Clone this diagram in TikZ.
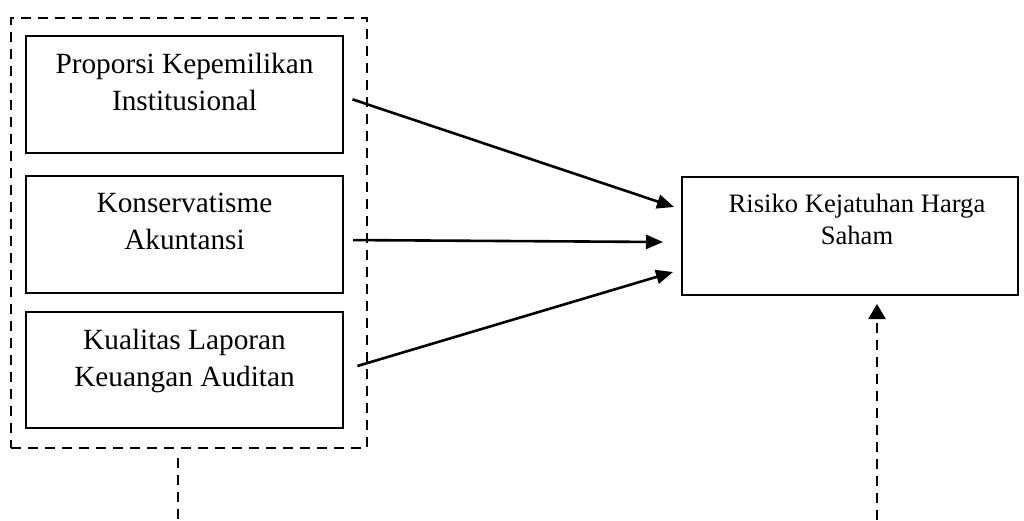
\documentclass[tikz,border=0pt]{standalone}
\usepackage{fontspec}
\setmainfont{Liberation Serif}
\usetikzlibrary{arrows.meta,positioning,calc}

\begin{document}
\begin{tikzpicture}[x=1pt,y=-1pt,
    varbox/.style={draw, line width=2pt, minimum width=317pt, minimum height=117pt, inner sep=0pt},
    vartext/.style={align=center, inner sep=0pt, font=\fontsize{29.3}{37}\selectfont},
    arr/.style={line width=2.6pt, -{Triangle[length=17pt,width=14pt]}},
    dashline/.style={line width=2.6pt, dash pattern=on 10pt off 7pt}]
    \useasboundingbox (0,0) rectangle (1024,520);

    % Independent variables
    \node[varbox] (prop) at (184.5,94.5) {};
    \node[varbox] (kons) at (184.5,234) {};
    \node[varbox, minimum height=116pt] (kual) at (184.5,370) {};
    \node[vartext, below=18pt of prop.north] (propt) {Proporsi Kepemilikan\\Institusional};
    \node[vartext, below=18pt of kons.north] (konst) {Konservatisme\\Akuntansi};
    \node[vartext, below=18pt of kual.north] (kualt) {Kualitas Laporan\\Keuangan Auditan};

    % Group box
    \node[draw, dashline, minimum width=356pt, minimum height=430pt, inner sep=0pt] (grp) at (189,233) {};

    % Dependent variable
    \node[varbox, minimum width=336pt, minimum height=118pt] (risk) at (850,236) {};
    \node[vartext, font=\fontsize{26.6}{32}\selectfont, below=18pt of risk.north, xshift=7pt] (riskt) {Risiko Kejatuhan Harga\\Saham};

    % Arrows
    \coordinate (r1) at ($(risk.west)+(-7,-29)$);
    \coordinate (r2) at ($(risk.west)+(-18,6)$);
    \coordinate (r3) at ($(risk.west)+(-8,36)$);
    \draw[arr, shorten <=9pt] ($(prop.east)+(0,2)$) -- (r1);
    \draw[arr, shorten <=9pt] ($(kons.east)+(0,6)$) -- (r2);
    \draw[arr, shorten <=14pt] (kual.east) -- (r3);

    % Dashed links
    \coordinate (bot) at (0,520);
    \coordinate (gtail) at ($(grp.south)+(-11,9)$);
    \coordinate (rtail) at (877,520);
    \draw[dashline] (gtail) -- (gtail |- bot);
    \draw[dashline, -{Triangle[length=15pt,width=17pt]}, shorten >=8pt] (rtail) -- (rtail |- risk.south);
\end{tikzpicture}
\end{document}
